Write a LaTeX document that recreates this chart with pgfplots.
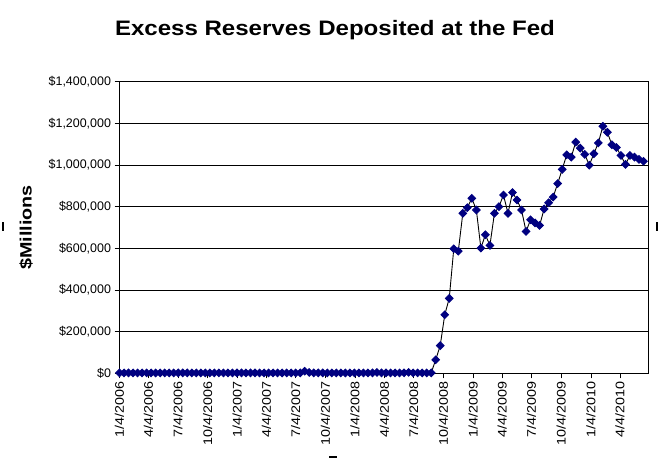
\documentclass[border=0pt]{standalone}
\usepackage{fontspec}
\setmainfont{Liberation Sans}
\newfontfamily\wide[FakeStretch=1.15]{Liberation Sans}
\newfontfamily\wider[FakeStretch=1.2]{Liberation Sans}
\usepackage{pgfplots}
\pgfplotsset{compat=1.18}
\definecolor{navy}{RGB}{0,0,128}
\begin{document}
\begin{tikzpicture}[x=1bp,y=1bp]
\path[use as bounding box] (0,0) rectangle (664,458);
% Excel selection handles
\fill[black] (2,227) rectangle (4,236);
\fill[black] (656,227) rectangle (658,236);
\fill[black] (329,0) rectangle (337,2);
\node[font=\wide\fontsize{21}{24}\selectfont\bfseries] at (335,428) {Excess Reserves Deposited at the Fed};
\begin{axis}[
  at={(119.5bp,84.7bp)}, anchor=south west,
  scale only axis, width=528.5bp, height=291.6bp,
  xmin=0, xmax=117, ymin=0, ymax=1400000,
  axis line style={black, line width=0.8bp},
  tick align=outside, major tick length=5bp,
  tick style={black, line width=0.8bp},
  xtick pos=bottom, ytick pos=left,
  ymajorgrids, grid style={black, line width=0.8bp},
  ytick={0,200000,400000,600000,800000,1000000,1200000,1400000},
  yticklabels={{\$0},{\$200,000},{\$400,000},{\$600,000},{\$800,000},{\$1,000,000},{\$1,200,000},{\$1,400,000}},
  xtick={0,6.4286,12.9286,19.5,26.0714,32.5,39,45.5714,52.1429,58.6429,65.1429,71.7143,78.2857,84.7143,91.2143,97.7857,104.3571,110.7857},
  xticklabels={1/4/2006,4/4/2006,7/4/2006,10/4/2006,1/4/2007,4/4/2007,7/4/2007,10/4/2007,1/4/2008,4/4/2008,7/4/2008,10/4/2008,1/4/2009,4/4/2009,7/4/2009,10/4/2009,1/4/2010,4/4/2010},
  scaled ticks=false,
  yticklabel style={font=\fontsize{12.5}{14}\selectfont},
  xticklabel style={font=\wide\fontsize{12.5}{14}\selectfont, rotate=90, anchor=east},
  ylabel={\$Millions},
  ylabel style={font=\wider\fontsize{16.5}{20}\selectfont\bfseries, at={(axis description cs:-0.1769,0.5)}, anchor=center, rotate=0},
  clip=false,
]
\addplot[black, line width=0.9bp, mark=square*, mark size=2.7bp,
  mark options={rotate=45, fill=navy, draw=navy}] coordinates {
(0,1800) (1,1700) (2,1900) (3,1800) (4,1700) (5,1800) (6,1900) (7,1800) (8,1700) (9,1800)
(10,1900) (11,1800) (12,1700) (13,1800) (14,1900) (15,1800) (16,1700) (17,1800) (18,1900) (19,1800)
(20,1700) (21,1800) (22,1900) (23,1800) (24,1700) (25,1800) (26,1900) (27,1800) (28,1700) (29,1800)
(30,1900) (31,1800) (32,1700) (33,1800) (34,1900) (35,1800) (36,1700) (37,1800) (38,1900) (39,1800)
(40,2000) (41,10000) (42,4000) (43,2000) (44,1900) (45,1800) (46,1700) (47,1800) (48,1900) (49,1800)
(50,1700) (51,1800) (52,1900) (53,1800) (54,1700) (55,1800) (56,2000) (57,4000) (58,2000) (59,1800)
(60,1700) (61,1800) (62,1900) (63,2200) (64,4500) (65,2000) (66,1900) (67,1800) (68,1900) (69,2000)
(70,65000) (71,133000) (72,281000) (73,360000) (74,598000) (75,586000) (76,768000) (77,795000)
(78,840000) (79,784000) (80,601000) (81,665000) (82,614000) (83,768000) (84,800000) (85,856000)
(86,768000) (87,868000) (88,832000) (89,784000) (90,681000) (91,737000) (92,722000) (93,710000)
(94,789000) (95,819000) (96,846000) (97,911000) (98,979000) (99,1049000) (100,1038000) (101,1110000)
(102,1081000) (103,1051000) (104,999000) (105,1054000) (106,1106000) (107,1186000) (108,1157000)
(109,1097000) (110,1084000) (111,1046000) (112,1003000) (113,1046000) (114,1038000) (115,1027000)
(116,1018000)
};
\end{axis}
\end{tikzpicture}
\end{document}
